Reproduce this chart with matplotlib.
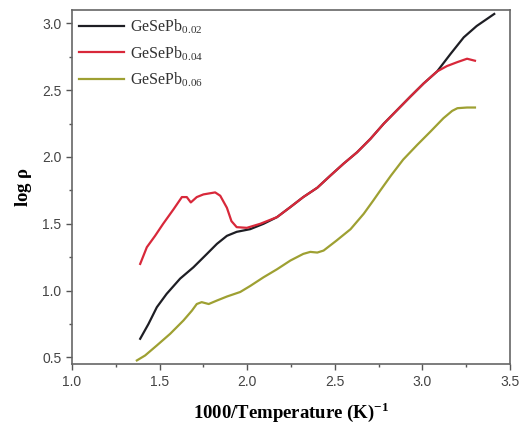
import numpy as np
import matplotlib
matplotlib.use("Agg")
import matplotlib.pyplot as plt
from matplotlib.ticker import MultipleLocator

# GeSePb0.02 (black)
x_02 = [1.389, 1.436, 1.484, 1.54, 1.617, 1.693, 1.77, 1.827, 1.884, 1.94, 2.017, 2.093,
        2.17, 2.246, 2.32, 2.40, 2.474, 2.55, 2.627, 2.703, 2.78, 2.855, 2.93, 3.007,
        3.084, 3.16, 3.236, 3.31, 3.41]
y_02 = [0.64, 0.75, 0.876, 0.976, 1.09, 1.175, 1.275, 1.35, 1.41, 1.44, 1.46, 1.50,
        1.55, 1.625, 1.70, 1.77, 1.86, 1.95, 2.035, 2.135, 2.25, 2.35, 2.45, 2.55,
        2.64, 2.77, 2.895, 2.98, 3.07]

# GeSePb0.04 (red)
x_04 = [1.389, 1.427, 1.474, 1.52, 1.58, 1.627, 1.655, 1.678, 1.712, 1.75, 1.817, 1.846,
        1.884, 1.91, 1.94, 1.998, 2.074, 2.17, 2.246, 2.32, 2.40, 2.474, 2.55, 2.627,
        2.703, 2.78, 2.855, 2.93, 3.007, 3.084, 3.14, 3.20, 3.255, 3.30]
y_04 = [1.20, 1.325, 1.41, 1.50, 1.61, 1.70, 1.70, 1.66, 1.70, 1.72, 1.735, 1.71,
        1.62, 1.52, 1.475, 1.47, 1.50, 1.55, 1.625, 1.70, 1.77, 1.86, 1.95, 2.035,
        2.135, 2.25, 2.35, 2.45, 2.55, 2.64, 2.68, 2.71, 2.735, 2.72]

# GeSePb0.06 (olive)
x_06 = [1.37, 1.417, 1.484, 1.56, 1.636, 1.684, 1.712, 1.74, 1.78, 1.827, 1.884, 1.96,
        2.017, 2.093, 2.17, 2.246, 2.32, 2.36, 2.40, 2.436, 2.51, 2.59, 2.665, 2.72,
        2.76, 2.82, 2.89, 2.97, 3.046, 3.12, 3.17, 3.20, 3.255, 3.30]
y_06 = [0.478, 0.515, 0.59, 0.677, 0.777, 0.85, 0.90, 0.914, 0.90, 0.926, 0.956, 0.99,
        1.035, 1.10, 1.16, 1.225, 1.275, 1.29, 1.285, 1.30, 1.375, 1.46, 1.575, 1.675,
        1.75, 1.86, 1.98, 2.09, 2.19, 2.29, 2.345, 2.365, 2.37, 2.37]

labels = [r"GeSePb$_{\mathregular{0.02}}$", r"GeSePb$_{\mathregular{0.04}}$",
          r"GeSePb$_{\mathregular{0.06}}$"]
colors = ["#1e1e24", "#d8283a", "#9ea032"]

fig = plt.figure(figsize=(5.22, 4.32), dpi=100)
ax = fig.add_axes([0.138, 0.157, 0.839, 0.82])

for xs, ys, lab, c in zip([x_02, x_04, x_06], [y_02, y_04, y_06], labels, colors):
    ax.plot(xs, ys, color=c, lw=1.6, label=lab)

ax.set_xlim(1.0, 3.5)
ax.set_ylim(0.45, 3.1)
ax.xaxis.set_major_locator(MultipleLocator(0.5))
ax.xaxis.set_minor_locator(MultipleLocator(0.25))
ax.yaxis.set_major_locator(MultipleLocator(0.5))
ax.yaxis.set_minor_locator(MultipleLocator(0.25))
ax.tick_params(which="both", direction="out", color="#555555", labelcolor="#444444",
               labelsize=10, top=False, right=False)
ax.tick_params(which="major", length=4, width=1)
ax.tick_params(which="minor", length=2.5, width=1)
for t in ax.get_xticklabels() + ax.get_yticklabels():
    t.set_family("Liberation Sans")
for s in ax.spines.values():
    s.set_color("#666666")
    s.set_linewidth(1.2)

ax.set_xlabel(r"1000/Temperature (K)$^{\mathregular{-1}}$", family="Liberation Serif",
              fontweight="bold", fontsize=13.5, labelpad=8)
ax.set_ylabel(r"log $\mathregular{\rho}$", family="Liberation Serif",
              fontweight="bold", fontsize=13.5, labelpad=6)

leg = ax.legend(loc="upper left", frameon=False, prop={"family": "Liberation Serif", "size": 11.5},
                handlelength=2.8, handletextpad=0.35, labelspacing=0.5,
                borderaxespad=0.05, labelcolor="#333333")

fig.savefig("out.png", dpi=100)
